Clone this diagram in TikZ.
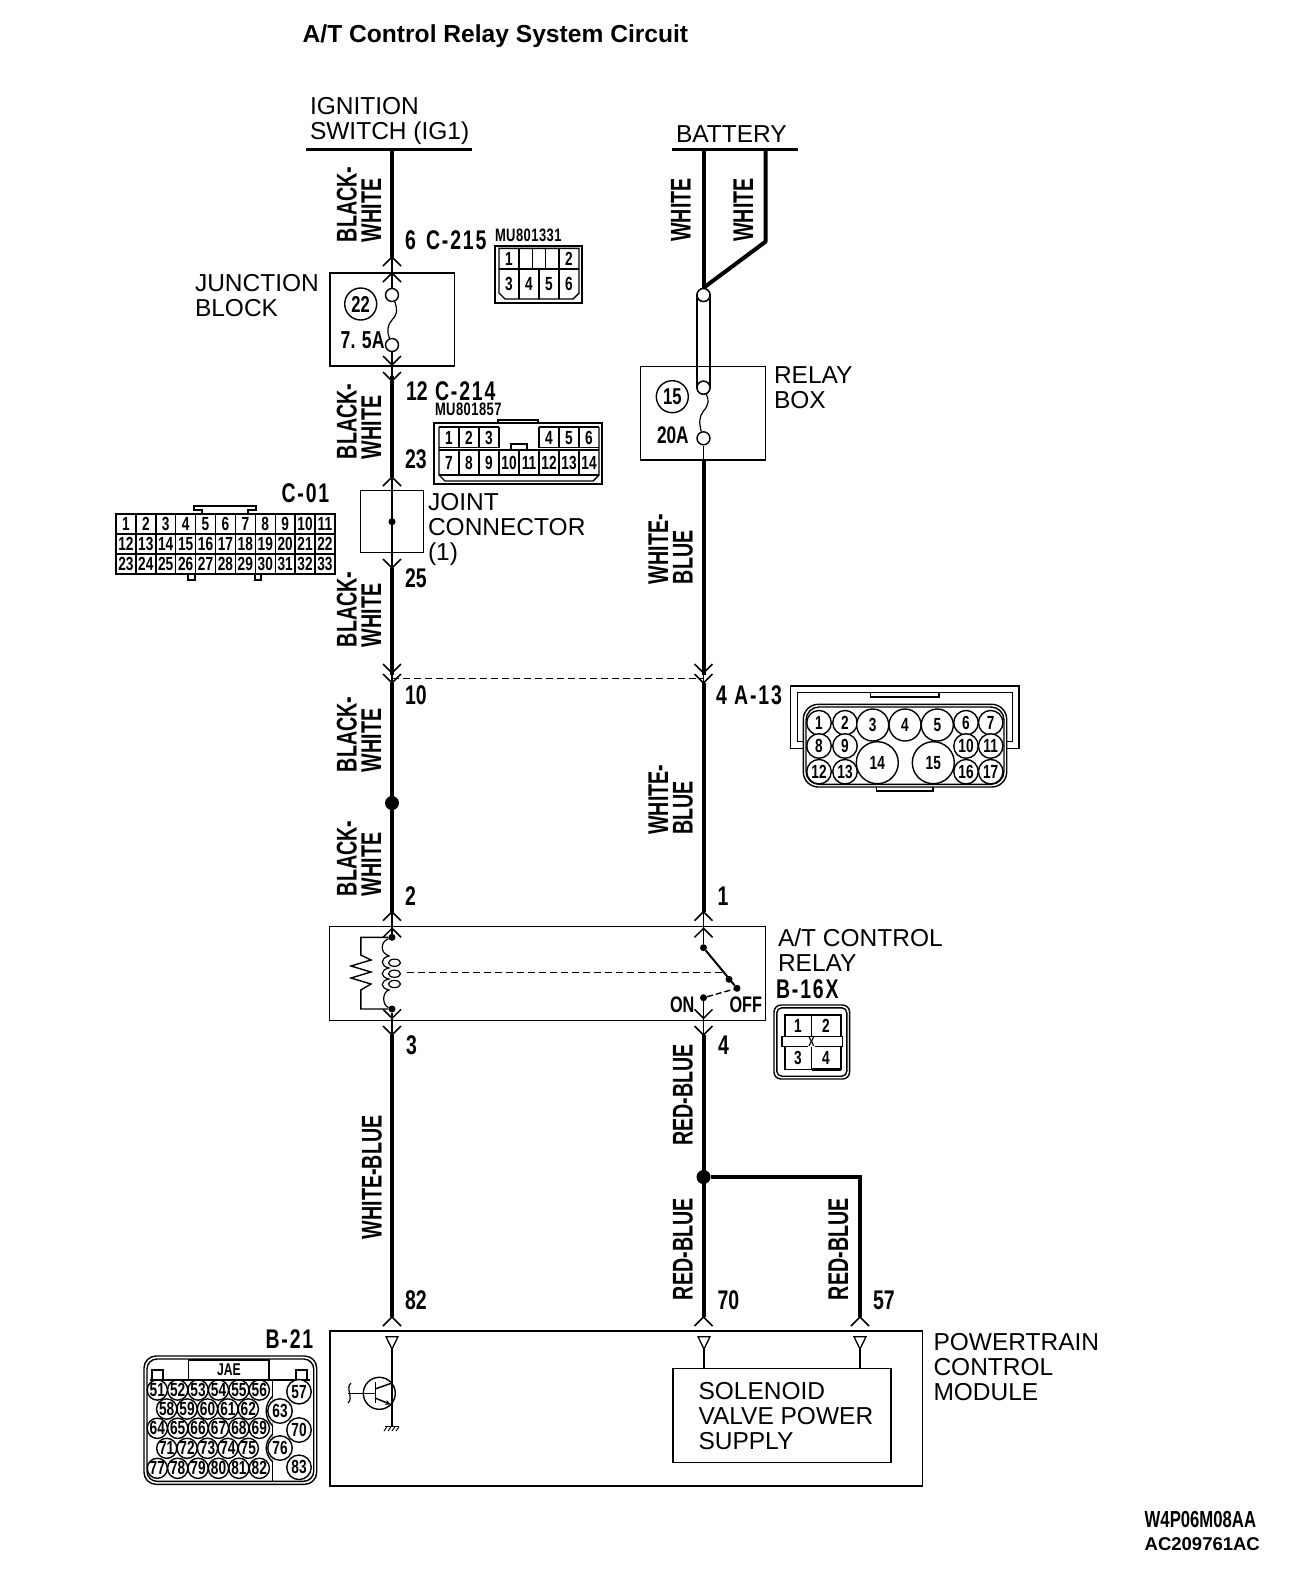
\documentclass[tikz,border=0pt]{standalone}
\usepackage{fontspec}
\usetikzlibrary{arrows.meta}
\setmainfont{Liberation Sans}
\newfontfamily\cond[FakeStretch=0.72]{Liberation Sans}
\newfontfamily\condw[FakeStretch=0.69]{Liberation Sans}
\newfontfamily\condls[FakeStretch=0.72,LetterSpace=7]{Liberation Sans}
\newfontfamily\condms[FakeStretch=0.72,LetterSpace=2.5]{Liberation Sans}
\newcommand{\chevU}[2]{\draw[chev] ({#1-9},{#2+9}) -- (#1,#2) -- ({#1+9},{#2+9});}
\newcommand{\chevD}[2]{\draw[chev] ({#1-9},{#2-9}) -- (#1,#2) -- ({#1+9},{#2-9});}
\tikzset{
 lab/.style={inner sep=0pt,outer sep=0pt,anchor=south west,align=left,text depth=0pt,font=\fontsize{24.5}{25}\selectfont},
 pin/.style={inner sep=0pt,outer sep=0pt,anchor=south west,text depth=0pt,font=\cond\bfseries\fontsize{27}{27}\selectfont},
 pinls/.style={inner sep=0pt,outer sep=0pt,anchor=south west,text depth=0pt,font=\condls\bfseries\fontsize{27}{27}\selectfont},
 wlab/.style={inner sep=0pt,outer sep=0pt,anchor=south west,align=left,rotate=90,text depth=0pt,font=\condw\bfseries\fontsize{28.5}{24.5}\selectfont},
 part/.style={inner sep=0pt,outer sep=0pt,anchor=south west,text depth=0pt,font=\condms\bfseries\fontsize{18}{18}\selectfont},
 num/.style={inner sep=0pt,outer sep=0pt,font=\cond\bfseries\fontsize{19}{19}\selectfont},
 numS/.style={inner sep=0pt,outer sep=0pt,font=\cond\bfseries\fontsize{19}{19}\selectfont},
 big/.style={inner sep=0pt,outer sep=0pt,font=\cond\bfseries\fontsize{23}{23}\selectfont},
 thick wire/.style={line width=4pt},
 thin wire/.style={line width=1.7pt},
 chev/.style={line width=1.5pt},
 cell/.style={line width=1.4pt},
 box/.style={line width=1.5pt},
 fuse/.style={circle,draw,line width=1.4pt,fill=white,minimum size=13pt,inner sep=0pt},
 ring/.style={circle,draw,line width=1.4pt,inner sep=0pt},
 dot/.style={circle,fill=black,inner sep=0pt,minimum size=7pt},
}
\begin{document}
\begin{tikzpicture}[x=1pt,y=-1pt]
\useasboundingbox (0,0) rectangle (1312,1580);
% titles
\node[inner sep=0pt,anchor=south west,text depth=0pt,font=\bfseries\fontsize{24.6}{25}\selectfont] (title) at (302.5,42.5) {A/T Control Relay System Circuit};
\node[lab] (ign) at (310,139) {IGNITION\\SWITCH (IG1)};
\node[lab] (bat) at (676,142.5) {BATTERY};
\node[lab] (jb) at (195,316) {JUNCTION\\BLOCK};
\node[lab] (rb) at (774,408) {RELAY\\BOX};
\node[lab] (jc) at (428,560) {JOINT\\CONNECTOR\\(1)};
\node[lab] (atc) at (778,971) {A/T CONTROL\\RELAY};
\node[lab] (pcm) at (933.5,1400.5) {POWERTRAIN\\CONTROL\\MODULE};
\node[inner sep=0pt,anchor=south west,text depth=0pt,font=\cond\bfseries\fontsize{23.2}{24}\selectfont] (wcode) at (1144.5,1528) {W4P06M08AA};
\node[inner sep=0pt,anchor=south west,text depth=0pt,font=\bfseries\fontsize{18.5}{19}\selectfont] (accode) at (1144.5,1551) {AC209761AC};
% supply bars
\coordinate (ignL) at (306,149.5); \coordinate (ignR) at (472,149.5);
\coordinate (batL) at (672,149.5); \coordinate (batR) at (798,149.5);
\draw[line width=2.5pt] (ignL) -- (ignR);
\draw[line width=2.5pt] (batL) -- (batR);
% boxes
\draw[box] (330,273) rectangle (454.5,366);
\draw[box] (640.7,366.7) rectangle (765.3,460);
\draw[box] (360.7,490.7) rectangle (423.3,552.7);
\draw[box] (329.3,926.5) rectangle (765.5,1020.5);
\draw[box] (330,1331) rectangle (922.5,1486);
\draw[box] (673,1368.5) rectangle (891,1462.5);
\node[lab] (sol) at (698.5,1449) {SOLENOID\\VALVE POWER\\SUPPLY};
% left wire
\coordinate (L0) at (392,149.5); \coordinate (L1) at (392,257);
\coordinate (L2) at (392,376); \coordinate (L3) at (392,477);
\coordinate (L4) at (392,568); \coordinate (L5) at (392,675);
\coordinate (L6) at (392,683); \coordinate (L7) at (392,912);
\coordinate (L8) at (392,1035); \coordinate (L9) at (392,1317);
\node[fuse] (f22t) at (392,295) {};
\node[fuse] (f22b) at (392,345) {};
\node[dot] (jdot) at (392,521.7) {};
\node[dot,minimum size=14pt] (spl) at (392,803) {};
\node[dot] (cT) at (392,937.3) {};
\node[dot] (cB) at (392,1009) {};
\draw[thick wire] (L0) -- (L1);
\draw[thin wire] (L1) -- (f22t);
\draw[line width=1.2pt] (f22t) .. controls (398,310) and (397,315) .. (392,320) .. controls (387,325) and (387,332) .. (f22b);
\draw[thin wire] (f22b) -- (L2);
\draw[thick wire] (L2) -- (L3);
\draw[thin wire] (L3) -- (L4);
\draw[thick wire] (L4) -- (L5);
\draw[thin wire] (L5) -- (L6);
\draw[thick wire] (L6) -- (L7);
\draw[thin wire] (L7) -- (cT);
\draw[thin wire] (cB) -- (L8);
\draw[thick wire] (L8) -- (L9);
% right wire
\coordinate (R0) at (703.5,149.5); \coordinate (R0b) at (765.5,149.5);
\coordinate (Rb) at (765.5,241.7);
\node[fuse] (t1) at (703.5,295) {};
\node[fuse] (t2) at (703.5,387.7) {};
\node[fuse] (f15b) at (703.5,438.3) {};
\coordinate (R1) at (703.5,460); \coordinate (R2) at (703.5,675);
\coordinate (R3) at (703.5,683); \coordinate (R4) at (703.5,912);
\node[dot] (swT) at (703.5,947.7) {};
\node[dot] (swM) at (729,979.3) {};
\node[dot] (swE) at (737,988.3) {};
\node[dot] (swOn) at (703.5,997.7) {};
\coordinate (R5) at (703.5,1035);
\node[dot,minimum size=14pt] (spr) at (703.5,1177) {};
\coordinate (R6) at (703.5,1317);
\coordinate (Bc) at (860,1177); \coordinate (Be) at (860,1317);
\draw[thick wire] (R0) -- (t1.north);
\draw[thick wire,line join=round] (R0b) -- (Rb) -- (t1.north);
\draw[line width=1.4pt] ([xshift=-6.5pt]t1.center) -- ([xshift=-6.5pt]t2.center);
\draw[line width=1.4pt] ([xshift=6.5pt]t1.center) -- ([xshift=6.5pt]t2.center);
\node[fuse] at (t1) {}; \node[fuse] at (t2) {};
\draw[line width=1.2pt] (t2) .. controls (709,400) and (709,405) .. (703.5,411) .. controls (699,416) and (699,424) .. (f15b);
\draw[thin wire] (f15b) -- (R1);
\draw[thick wire] (R1) -- (R2);
\draw[thin wire] (R2) -- (R3);
\draw[thick wire] (R3) -- (R4);
\draw[thin wire] (R4) -- (swT);
\draw[line width=2pt] (swT) -- (swE);
\draw[thin wire] (swOn) -- (R5);
\draw[thick wire] (R5) -- (R6);
\draw[thick wire,line join=miter] (spr) -- (Bc) -- (Be);
% dashes
\draw[line width=1.4pt,dash pattern=on 7pt off 4pt] (392,678.3) -- (703.5,678.3);
\draw[line width=1.4pt,dash pattern=on 7pt off 4pt] (406.5,972.3) -- (725,972.3);
\draw[line width=1.4pt,dash pattern=on 6pt off 3pt] (swOn) -- (swE);
% chevrons
\chevU{392}{257}\chevU{392}{273}
\chevD{392}{365}\chevD{392}{381}
\chevU{392}{477}\chevD{392}{568}
\chevD{392}{673}\chevD{392}{683}
\chevD{703.5}{673}\chevD{703.5}{683}
\chevU{392}{911.7}\chevU{392}{928.3}
\chevU{703.5}{911.7}\chevU{703.5}{928.3}
\chevD{392}{1018.3}\chevD{392}{1035}
\chevD{703.5}{1018.3}\chevD{703.5}{1035}
\chevU{392}{1317}\chevU{703.5}{1317}\chevU{860}{1317}
% relay coil and resistor
\draw[line width=1.4pt] (cT) -- (360.8,937.3) -- (360.8,955) -- (371,960) -- (351,966) -- (371,972) -- (351,978) -- (371,984) -- (360.8,990) -- (360.8,1009) -- (cB);
\draw[line width=1.2pt] (cT) .. controls (380,942) and (380,953) .. (389,956) .. controls (380,958) and (380,966) .. (389,968) .. controls (380,970) and (380,977) .. (389,979) .. controls (380,981) and (380,988) .. (389,990) .. controls (382,992) and (382,1005) .. (cB);
\foreach \yy/\nn in {962.7/a,973.7/b,984/c}
  \draw[line width=1.2pt] (394.5,\yy) ellipse (6 and 3.6);
\node[big,font=\cond\bfseries\fontsize{22.5}{23}\selectfont,anchor=south west,text depth=0pt] (on) at (670,1012.3) {ON};
\node[big,font=\cond\bfseries\fontsize{22.5}{23}\selectfont,anchor=south west,text depth=0pt] (off) at (729.5,1012.3) {OFF};
% pcm pins
\foreach \xx/\nm in {392/a,704/b,860/c}{
  \draw[line width=1.3pt] (\xx-6,1336.7) -- (\xx+6,1336.7) -- (\xx,1349) -- cycle;
}
\draw[line width=1.3pt] (704,1349) -- (704,1368.5);
\draw[line width=1.3pt] (860,1349) -- (860,1368.5);
\draw[line width=1.5pt] (392,1349) -- (392,1426.7);
\node[ring,minimum size=32pt] (tr) at (379.3,1393.3) {};
\draw[line width=1.5pt] (tr.center) ++(-4,-11) -- ++(0,21);
\draw[line width=1.5pt] (375,1393.3) -- (348,1393.3);
\draw[line width=1.2pt] (351,1383) .. controls (345,1388) and (354,1398) .. (348,1403);
\draw[line width=1.5pt] (375,1389) -- (392,1383);
\draw[line width=1.5pt,-{Stealth[length=6pt,width=5pt]}] (375,1398) -- (391,1404.5);
\draw[line width=1.5pt] (385,1426.7) -- (399,1426.7);
\foreach \xx in {387,391,395,399} \draw[line width=1pt] (\xx,1426.7) -- (\xx-3,1431);
% fuse labels
\node[ring,big,minimum size=32pt] (n22) at (360.7,304) {22};
\node[ring,big,minimum size=32pt] (n15) at (672.3,396.7) {15};
\node[big,anchor=south west,text depth=0pt,font=\cond\bfseries\fontsize{24.5}{25}\selectfont] (a75) at (340.7,348) {7. 5A};
\node[big,anchor=south west,text depth=0pt,font=\cond\bfseries\fontsize{24}{24}\selectfont] (a20) at (657,443) {20A};
% pin labels
\node[pin] (p6) at (405,249.3) {6};
\node[pinls] (c215) at (426,249.3) {C-215};
\node[part] (mu1) at (495,241.7) {MU801331};
\node[pin] (p12) at (406,400) {12};
\node[pinls] (c214) at (435,400) {C-214};
\node[part] (mu2) at (435,415) {MU801857};
\node[pin] (p23) at (405,468) {23};
\node[pinls] (c01) at (281.5,502) {C-01};
\node[pin] (p25) at (405,587) {25};
\node[pin] (p10) at (405,704.5) {10};
\node[pinls] (p4a) at (716,704) {4 A-13};
\node[pin] (p2) at (405,905) {2};
\node[pin] (p1) at (717.5,905) {1};
\node[pin] (p3) at (406,1054) {3};
\node[pin] (p4) at (718,1054) {4};
\node[pinls] (b16) at (776,998.3) {B-16X};
\node[pin] (p82) at (405,1309.5) {82};
\node[pin] (p70) at (717.5,1309.5) {70};
\node[pin] (p57) at (873,1309.5) {57};
\node[pinls] (b21) at (265.5,1348) {B-21};
% wire labels
\node[wlab] (w1) at (381,242) {BLACK-\\WHITE};
\node[wlab] (w2) at (381,459) {BLACK-\\WHITE};
\node[wlab] (w3) at (381,647) {BLACK-\\WHITE};
\node[wlab] (w4) at (381,772) {BLACK-\\WHITE};
\node[wlab] (w5) at (381,896) {BLACK-\\WHITE};
\node[wlab] (w6) at (690.7,241.7) {WHITE};
\node[wlab] (w7) at (753,241.7) {WHITE};
\node[wlab] (w8) at (692.5,584) {WHITE-\\BLUE};
\node[wlab] (w9) at (692.5,834.6) {WHITE-\\BLUE};
\node[wlab] (w10) at (381.5,1239) {WHITE-BLUE};
\node[wlab] (w11) at (692.5,1145.5) {RED-BLUE};
\node[wlab] (w12) at (692.5,1300) {RED-BLUE};
\node[wlab] (w13) at (848,1300) {RED-BLUE};
% C-215 connector
\draw[cell] (495,246) rectangle (582,303);
\draw[cell] (499,248.3) -- (579,248.3) -- (579,293) -- (573,299) -- (505,299) -- (499,293) -- cycle;
\draw[cell] (499,269) -- (579,269);
\draw[cell] (519,248.3) -- (519,299) (539,269) -- (539,299) (559,248.3) -- (559,299);
\draw[cell] (532.5,269) -- (532.5,248.3) -- (545.5,248.3) -- (545.5,269);
\foreach \t/\xx/\yy in {1/509/259,2/569/259,3/509/284,4/529/284,5/549/284,6/569/284}
  \node[num,name=ca\t] at (\xx,\yy) {\t};
% C-214 connector
\draw[cell] (434,423) rectangle (602,484);
\draw[cell] (498,423) -- (498,420) -- (538,420) -- (538,423);
\draw[cell] (439,427) -- (499,427) (539,427) -- (599,427);
\draw[cell] (439,427) -- (439,475) -- (445,481) -- (593,481) -- (599,475) -- (599,427);
\draw[cell] (439,475) -- (599,475);
\draw[cell] (439,447.5) -- (499,447.5) (539,447.5) -- (599,447.5);
\draw[cell] (439,450) -- (599,450);
\draw[cell] (511,450) -- (511,444) -- (527,444) -- (527,450);
\foreach \i in {459,479,499} \draw[cell] (\i,427) -- (\i,447.5);
\foreach \i in {539,559,579} \draw[cell] (\i,427) -- (\i,447.5);
\foreach \i in {459,479,...,579} \draw[cell] (\i,450) -- (\i,475);
\foreach \t/\xx in {1/449,2/469,3/489,4/549,5/569,6/589}
  \node[num,name=cb\t] at (\xx,438) {\t};
\foreach \t/\xx in {7/449,8/469,9/489,10/509,11/529,12/549,13/569,14/589}
  \node[num,name=cb\t] at (\xx,462.5) {\t};
% C-01 connector
\draw[cell] (116,514) rectangle (335,574);
\draw[cell] (116,534) -- (335,534) (116,554) -- (335,554);
\foreach \c in {1,...,10} \draw[cell] ({116+19.9*\c},514) -- ({116+19.9*\c},574);
\draw[cell] (202,514) -- (202,510) -- (194,510) -- (194,506) -- (256,506) -- (256,510) -- (248,510) -- (248,514);
\draw[cell] (188,574) -- (188,580) -- (195,580) -- (195,574);
\draw[cell] (255,574) -- (255,580) -- (261,580) -- (261,574);
\foreach \r in {0,1,2}\foreach \c in {0,...,10}{
  \pgfmathtruncatemacro\nn{\r*11+\c+1}
  \node[num,name=cc\nn] at ({116+19.9*(\c+.5)},{514+20*(\r+.5)}) {\nn};
}
% A-13 connector
\draw[cell] (803,748.3) -- (790.7,748.3) -- (790.7,686) -- (1019,686) -- (1019,748.3) -- (1006.7,748.3);
\draw[cell] (803,741.7) -- (797.3,741.7) -- (797.3,692.3) -- (1012.3,692.3) -- (1012.3,741.7) -- (1006.7,741.7);
\draw[cell] (870.7,692.3) -- (870.7,697) -- (939,697) -- (939,692.3);
\draw[cell,rounded corners=15pt] (803.3,704.3) rectangle (1006.7,787);
\draw[cell,rounded corners=13pt] (806,707) rectangle (1004,784.3);
\draw[cell] (876.7,787) -- (876.7,791) -- (933,791) -- (933,787);
\foreach \t/\xx/\yy in {1/819/722.7,2/845/722.7,6/966/722.7,7/990.7/722.7,8/819/746,9/845/746,10/966/746,11/990.7/746,12/819/771.7,13/845/771.7,16/966/771.7,17/990.7/771.7}
  \node[ring,num,minimum size=24.5pt,fill=white,name=cd\t] at (\xx,\yy) {\t};
\foreach \t/\xx/\yy in {3/872.7/725,4/905/725,5/937.3/725}
  \node[ring,num,minimum size=32pt,fill=white,name=cd\t] at (\xx,\yy) {\t};
\foreach \t/\xx/\yy in {14/877.3/762.7,15/933.3/762.7}
  \node[ring,num,minimum size=42pt,fill=white,name=cd\t] at (\xx,\yy) {\t};
% B-16X connector
\draw[cell,rounded corners=7pt] (774,1005) rectangle (849.6,1079);
\draw[cell,rounded corners=5pt] (776.8,1007.8) rectangle (846.8,1076.2);
\draw[cell] (785,1015) rectangle (841,1069.3);
\draw[cell,fill=white] (782,1036.7) rectangle (842.7,1046.7);
\draw[cell] (811.5,1015) -- (811.5,1069.3);
\draw[line width=2.6pt] (785,1015) -- (811.5,1015) (811.5,1069.3) -- (841,1069.3);
\foreach \t/\xx/\yy in {1/798/1026,2/826/1026,3/798/1058,4/826/1058}
  \node[num,name=ce\t] at (\xx,\yy) {\t};
\node[numS,fill=white,inner sep=0.5pt,font=\cond\bfseries\fontsize{13}{13}\selectfont] (cex) at (811.5,1041.7) {X};
% B-21 connector
\draw[cell,rounded corners=12pt] (144,1356) rectangle (316.7,1484.3);
\draw[cell,rounded corners=10pt] (147,1359) rectangle (313.7,1481.3);
\draw[cell] (188.3,1380) -- (188.3,1360) -- (269,1360) -- (269,1380);
\node[num,font=\cond\bfseries\fontsize{17}{17}\selectfont] (jae) at (229,1370) {JAE};
\draw[cell] (152,1380) -- (152,1370) -- (163,1370) -- (163,1380);
\draw[cell] (296,1380) -- (296,1370) -- (307,1370) -- (307,1380);
\draw[cell] (150,1380) -- (310,1380);
\draw[cell] (272.7,1380) -- (272.7,1481);
\foreach \t/\i in {51/0,52/1,53/2,54/3,55/4,56/5}
  \node[ring,numS,minimum size=17.5pt,name=cf\t] at ({157.3+20.4*\i},1390) {\t};
\foreach \t/\i in {58/0,59/1,60/2,61/3,62/4}
  \node[ring,numS,minimum size=17.5pt,name=cf\t] at ({166.7+20.4*\i},1409) {\t};
\foreach \t/\i in {64/0,65/1,66/2,67/3,68/4,69/5}
  \node[ring,numS,minimum size=17.5pt,name=cf\t] at ({157.3+20.4*\i},1428.3) {\t};
\foreach \t/\i in {71/0,72/1,73/2,74/3,75/4}
  \node[ring,numS,minimum size=17.5pt,name=cf\t] at ({166.7+20.4*\i},1448.3) {\t};
\foreach \t/\i in {77/0,78/1,79/2,80/3,81/4,82/5}
  \node[ring,numS,minimum size=17.5pt,name=cf\t] at ({157.3+20.4*\i},1468.3) {\t};
\draw[cell,fill=white] (272.7,1396) .. controls (264,1405) and (264,1417) .. (272.7,1426);
\draw[cell,fill=white] (272.7,1434) .. controls (264,1443) and (264,1453) .. (272.7,1462);
\foreach \t/\xx/\yy in {57/299/1391.7,63/280/1411,70/299/1430,76/280/1448,83/299/1467.3}
  \node[ring,num,minimum size=24.5pt,fill=white,name=cf\t] at (\xx,\yy) {\t};
\end{tikzpicture}
\end{document}
